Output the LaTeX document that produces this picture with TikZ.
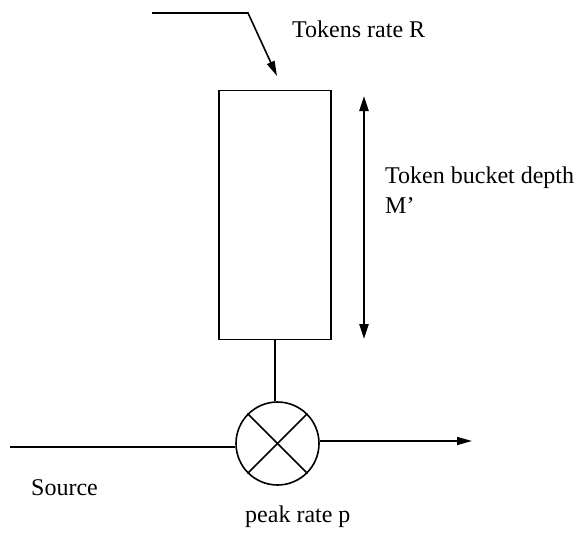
\documentclass[tikz,border=0pt]{standalone}
\usepackage{fontspec}
\setmainfont{Liberation Serif}
\usetikzlibrary{arrows.meta}
\tikzset{
  wire/.style={line width=1.6pt},
  tip/.style={-{Triangle[length=15pt,width=8pt]}},
  lbl/.style={anchor=base west,inner sep=0pt,font=\fontsize{24}{30}\selectfont},
}
\begin{document}
\begin{tikzpicture}[x=1pt,y=-1pt]
\useasboundingbox (0,0) rectangle (583,533);
\node[wire,draw,minimum width=112pt,minimum height=249pt,inner sep=0pt] (bucket) at (275,215) {};
\node[wire,draw,circle,minimum size=83pt,inner sep=0pt] (mux) at (277.5,443.5) {};
\draw[wire] (mux.north west) -- (mux.south east);
\draw[wire] (mux.north east) -- (mux.south west);
% tokens inlet
\coordinate (tin) at (152,13);
\coordinate (tcorner) at (248,13);
\coordinate (ttip) at (277,76);
\draw[wire,tip] (tin) -- (tcorner) -- (ttip);
% depth double arrow
\coordinate (dtop) at (364,96);
\coordinate (dbot) at (364,339);
\draw[line width=2.4pt,{Triangle[length=15pt,width=9pt]}-{Triangle[length=15pt,width=9pt]}] (dtop) -- (dbot);
% bucket to multiplier
\draw[wire] (bucket.south) -- (bucket.south |- mux.north);
% source line
\coordinate (src) at (10,447);
\draw[wire] (src) -- (src -| mux.west);
% output
\coordinate (out) at (472,441);
\draw[wire,tip] (out -| mux.east) -- (out);
% labels
\node[lbl] (lrate) at (292,37) {Tokens rate R};
\node[lbl] (ldepth) at (385,183) {Token bucket depth};
\node[lbl] (lm) at (385,213) {M'};
\node[lbl] (lsrc) at (31,495) {Source};
\node[lbl] (lpeak) at (245,522) {peak rate p};
\end{tikzpicture}
\end{document}
